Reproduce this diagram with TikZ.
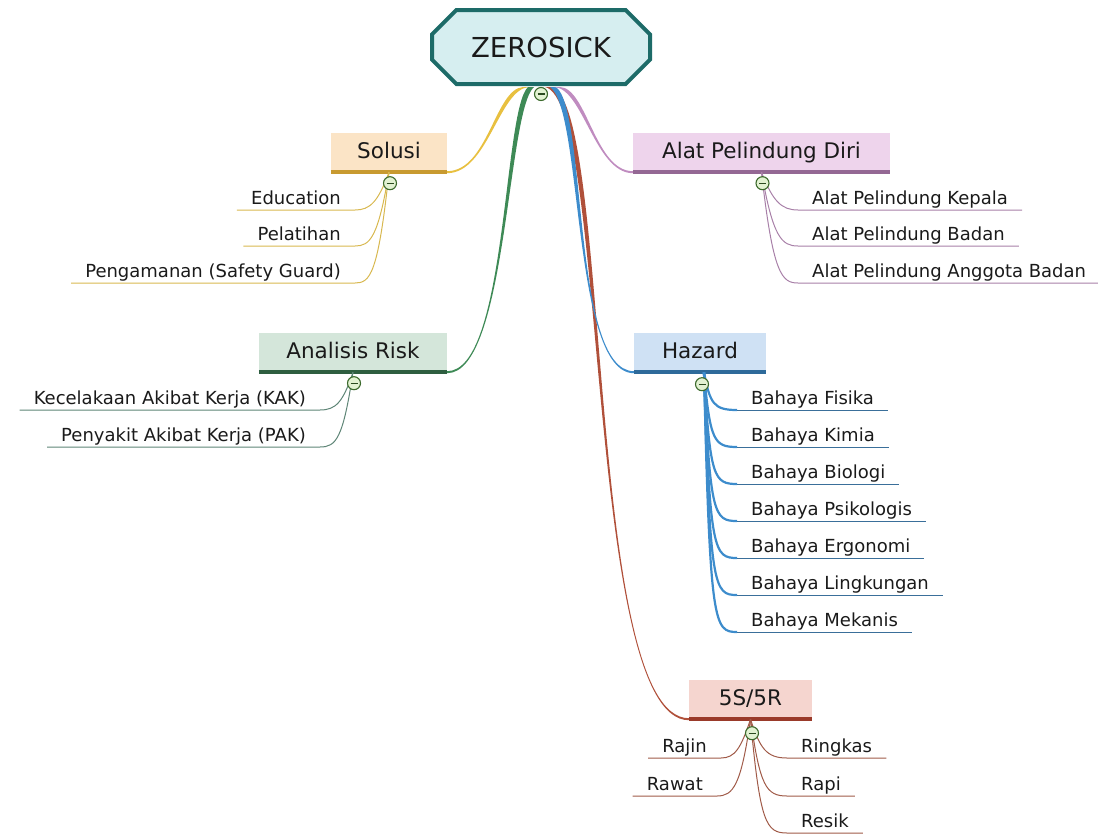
\documentclass[tikz,border=0pt]{standalone}
\usepackage{fontspec}
\setmainfont{DejaVu Sans}
\usetikzlibrary{shapes.misc,calc}
\definecolor{rootF}{HTML}{D6EEF0}
\definecolor{rootB}{HTML}{1D6B68}
\definecolor{solF}{HTML}{FBE4C6}
\definecolor{solB}{HTML}{C89A30}
\definecolor{solC}{HTML}{E8C040}
\definecolor{solL}{HTML}{D8B850}
\definecolor{alaF}{HTML}{EED4EC}
\definecolor{alaB}{HTML}{946894}
\definecolor{alaC}{HTML}{C08CC0}
\definecolor{alaL}{HTML}{A880A8}
\definecolor{anaF}{HTML}{D4E6DA}
\definecolor{anaB}{HTML}{2E5E40}
\definecolor{anaC}{HTML}{3E8A56}
\definecolor{anaL}{HTML}{5E8576}
\definecolor{hazF}{HTML}{CFE1F4}
\definecolor{hazB}{HTML}{2E6A9A}
\definecolor{hazC}{HTML}{3D8CCC}
\definecolor{hazL}{HTML}{3A6F9A}
\definecolor{fivF}{HTML}{F5D5CF}
\definecolor{fivB}{HTML}{9A3A2A}
\definecolor{fivC}{HTML}{B0503A}
\definecolor{fivL}{HTML}{A05A48}
\definecolor{colF}{HTML}{E2F2D2}
\definecolor{colB}{HTML}{3C6A2C}
\definecolor{txt}{HTML}{1A1A1A}
\newcommand\taperbranch[6]{%
 \fill[#1] ($(#2)+(-3*#6,0)$) .. controls ($(#3)+(-2*#6,0)$) and ($(#4)+(0,-1)$) .. ($(#5)+(0,-1)$)
   -- ($(#5)+(0,1)$) .. controls ($(#4)+(0,1)$) and ($(#3)+(2*#6,0)$) .. ($(#2)+(3*#6,0)$) -- cycle;}
\tikzset{
 rootbox/.style={chamfered rectangle, chamfered rectangle sep=14pt, draw=rootB, fill=rootF,
   line width=4pt, minimum width=218pt, minimum height=74pt, inner sep=0pt,
   font=\fontsize{27.5}{32}\selectfont, text=txt},
 head/.style={inner sep=0pt, minimum height=39pt, text height=15pt, text depth=4pt,
   font=\fontsize{21.5}{25}\selectfont, text=txt},
 leaf/.style={inner xsep=14pt, inner ysep=1.5pt, text height=13pt, text depth=3.5pt,
   font=\fontsize{18}{22}\selectfont, text=txt},
 leafL/.style={leaf, anchor=south east},
 leafR/.style={leaf, anchor=south west},
 coll/.style={circle, draw=colB, fill=colF, line width=1.1pt, minimum size=13pt, inner sep=0pt,
   path picture={\draw[colB!70!black, line width=1.4pt]
     ([xshift=3pt]path picture bounding box.west) -- ([xshift=-3pt]path picture bounding box.east);}},
}
\begin{document}
\begin{tikzpicture}[x=1pt,y=-1pt]
\useasboundingbox (0,0) rectangle (1098,836);

% main nodes
\node[rootbox] (root) at (541,47) {ZEROSICK};
\node[head, fill=solF, minimum width=116pt] (sol) at (389,152.5) {Solusi};
\node[head, fill=alaF, minimum width=257pt] (ala) at (761.5,152.5) {Alat Pelindung Diri};
\node[head, fill=anaF, minimum width=188pt] (ana) at (353,352.5) {Analisis Risk};
\node[head, fill=hazF, minimum width=132pt] (haz) at (700,352.5) {Hazard};
\node[head, fill=fivF, minimum width=123pt] (fiv) at (750.5,699.5) {5S/5R};

\draw[solB, line width=4pt] (sol.south west) -- (sol.south east);
\draw[alaB, line width=4pt] (ala.south west) -- (ala.south east);
\draw[anaB, line width=4pt] (ana.south west) -- (ana.south east);
\draw[hazB, line width=4pt] (haz.south west) -- (haz.south east);
\draw[fivB, line width=4pt] (fiv.south west) -- (fiv.south east);

% root branch start points
\coordinate (rsol) at ($(root.south)+(-15,1)$);
\coordinate (rana) at ($(root.south)+(-10,1)$);
\coordinate (rfiv) at ($(root.south)+(7,1)$);
\coordinate (rhaz) at ($(root.south)+(12,1)$);
\coordinate (rala) at ($(root.south)+(16,1)$);

\taperbranch{solC}{rsol}{497,89}{488,172}{sol.south east}{1}
\taperbranch{anaC}{rana}{505,110}{507,372}{ana.south east}{1}
\taperbranch{fivC}{rfiv}{610,100}{585,719}{fiv.south west}{-1}
\taperbranch{hazC}{rhaz}{585,110}{572,372}{haz.south west}{-1}
\taperbranch{alaC}{rala}{585,88}{595,172}{ala.south west}{-1}

% Solusi children
\node[leafL] (edu) at (355,210) {Education};
\node[leafL] (pel) at (355,246) {Pelatihan};
\node[leafL] (pen) at (355,283) {Pengamanan (Safety Guard)};
\draw[solL, line width=1pt] (sol.south) .. controls (378,202) and (370,210) .. (edu.south east) -- (edu.south west);
\draw[solL, line width=1pt] (sol.south) .. controls (378,238) and (370,246) .. (pel.south east) -- (pel.south west);
\draw[solL, line width=1pt] (sol.south) .. controls (378,275) and (370,283) .. (pen.south east) -- (pen.south west);

% Alat Pelindung Diri children
\node[leafR] (kep) at (798,210) {Alat Pelindung Kepala};
\node[leafR] (bad) at (798,246) {Alat Pelindung Badan};
\node[leafR] (ang) at (798,283) {Alat Pelindung Anggota Badan};
\draw[alaL, line width=1pt] (ala.south) .. controls (773,202) and (782,210) .. (kep.south west) -- (kep.south east);
\draw[alaL, line width=1pt] (ala.south) .. controls (773,238) and (782,246) .. (bad.south west) -- (bad.south east);
\draw[alaL, line width=1pt] (ala.south) .. controls (773,275) and (782,283) .. (ang.south west) -- (ang.south east);

% Analisis Risk children
\node[leafL] (kak) at (320,410) {Kecelakaan Akibat Kerja (KAK)};
\node[leafL] (pak) at (320,447) {Penyakit Akibat Kerja (PAK)};
\draw[anaL, line width=1pt] (ana.south) .. controls (343,402) and (336,410) .. (kak.south east) -- (kak.south west);
\draw[anaL, line width=1pt] (ana.south) .. controls (343,439) and (336,447) .. (pak.south east) -- (pak.south west);

% Hazard children
\node[leafR] (fis) at (737,410) {Bahaya Fisika};
\node[leafR] (kim) at (737,447) {Bahaya Kimia};
\node[leafR] (bio) at (737,484) {Bahaya Biologi};
\node[leafR] (psi) at (737,521) {Bahaya Psikologis};
\node[leafR] (erg) at (737,558) {Bahaya Ergonomi};
\node[leafR] (lin) at (737,595) {Bahaya Lingkungan};
\node[leafR] (mek) at (737,632) {Bahaya Mekanis};
\coordinate (hs) at ($(haz.south)+(4,0)$);
\foreach \n/\y in {fis/410,kim/447,bio/484,psi/521,erg/558,lin/595,mek/632}{
  \draw[hazC, line width=2.2pt] (hs) .. controls (710,\y-6) and (714,\y) .. (\n.south west);
  \draw[hazL, line width=1pt] (\n.south west) -- (\n.south east);
}

% 5S/5R children
\node[leafL] (raj) at (721,758) {Rajin};
\node[leafL] (raw) at (717,796) {Rawat};
\node[leafR] (rin) at (787,758) {Ringkas};
\node[leafR] (rap) at (787,796) {Rapi};
\node[leafR] (res) at (787,833) {Resik};
\draw[fivL, line width=1pt] (fiv.south) .. controls (741,748) and (735,758) .. (raj.south east) -- (raj.south west);
\draw[fivL, line width=1pt] (fiv.south) .. controls (741,786) and (733,796) .. (raw.south east) -- (raw.south west);
\draw[fivL, line width=1pt] (fiv.south) .. controls (760,748) and (766,758) .. (rin.south west) -- (rin.south east);
\draw[fivL, line width=1pt] (fiv.south) .. controls (760,786) and (766,796) .. (rap.south west) -- (rap.south east);
\draw[fivL, line width=1pt] (fiv.south) .. controls (760,823) and (766,833) .. (res.south west) -- (res.south east);

% collapse markers
\node[coll] (croot) at ($(root.south)+(0,8)$) {};
\node[coll] (csol) at ($(sol.south)+(1,11)$) {};
\node[coll] (cala) at ($(ala.south)+(1,11)$) {};
\node[coll] (cana) at ($(ana.south)+(1,11)$) {};
\node[coll] (chaz) at ($(haz.south)+(2,12)$) {};
\node[coll] (cfiv) at ($(fiv.south)+(1.5,14)$) {};
\end{tikzpicture}
\end{document}
